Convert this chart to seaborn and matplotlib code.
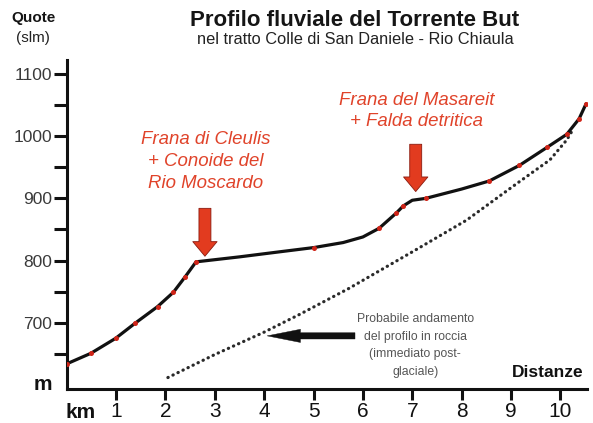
import matplotlib
matplotlib.use("Agg")
import matplotlib.pyplot as plt
import seaborn as sns
import pandas as pd

# Surveyed river-bed points (distance in km, elevation in m a.s.l.)
survey_km = [0.0, 0.49, 0.99, 1.38, 1.84, 2.16, 2.40, 2.62, 5.01, 6.33, 6.67,
             6.82, 7.27, 8.56, 9.17, 9.73, 10.13, 10.38, 10.52]
survey_m = [634, 651, 675, 699, 726, 749, 774, 798, 821, 852, 876,
            888, 900, 928, 953, 982, 1003, 1028, 1052]

# Traced longitudinal profile of the river bed
profile_km = [0.0, 0.49, 0.99, 1.38, 1.84, 2.16, 2.40, 2.62, 3.5, 4.3, 5.01,
              5.6, 6.0, 6.33, 6.67, 6.82, 7.0, 7.27, 8.0, 8.56, 9.17, 9.73,
              10.13, 10.38, 10.52]
profile_m = [634, 651, 675, 699, 726, 749, 774, 798, 806, 814, 821,
             829, 838, 852, 876, 888, 897, 900, 915, 928, 953, 982,
             1003, 1028, 1052]

# Probable bedrock profile (post-glacial)
bedrock_km = [2.05, 3.0, 4.0, 4.73, 5.71, 7.0, 8.1, 9.12, 9.79, 10.13, 10.25]
bedrock_m = [612, 649, 685, 714, 755, 814, 865, 924, 962, 994, 1010]

x_ticks = [1, 2, 3, 4, 5, 6, 7, 8, 9, 10]
y_ticks = [650, 700, 750, 800, 850, 900, 950, 1000, 1050, 1100]
y_labels = ["", "700", "", "800", "", "900", "", "1000", "", "1100"]

RED = "#e0432a"
ARROW_RED = "#e23b1f"

sns.set_theme(style="white")
plt.rcParams["font.family"] = ["Liberation Sans", "DejaVu Sans"]

fig = plt.figure(figsize=(5.93, 4.23), dpi=100)
ax = fig.add_axes([0.1125, 0.0804, 0.8774, 0.7778])

profile = pd.DataFrame({"km": profile_km, "m": profile_m})
survey = pd.DataFrame({"km": survey_km, "m": survey_m})
bedrock = pd.DataFrame({"km": bedrock_km, "m": bedrock_m})

sns.lineplot(data=bedrock, x="km", y="m", ax=ax, color="#2a2a2a", lw=2.3,
             sort=False, linestyle=(0, (0.1, 1.65)), dash_capstyle="round")
sns.lineplot(data=profile, x="km", y="m", ax=ax, color="#111111", lw=2.3,
             sort=False, solid_joinstyle="round")
sns.scatterplot(data=survey, x="km", y="m", ax=ax, color="#cf2418", s=13,
                linewidth=0, zorder=5)

ax.set_xlim(0, 10.54)
ax.set_ylim(593.6, 1122.5)
ax.set_xlabel("")
ax.set_ylabel("")

for side in ("top", "right"):
    ax.spines[side].set_visible(False)
for side in ("left", "bottom"):
    ax.spines[side].set_linewidth(2.2)
    ax.spines[side].set_color("#111111")

ax.set_xticks(x_ticks)
ax.set_xticklabels([str(v) for v in x_ticks])
ax.set_yticks(y_ticks)
ax.set_yticklabels(y_labels)
ax.tick_params(axis="x", direction="out", length=8, width=2.2, color="#111111",
               labelsize=15, labelcolor="#111111", pad=1.5, bottom=True)
ax.tick_params(axis="y", direction="out", length=9.5, width=2.2, color="#111111",
               labelsize=12.5, labelcolor="#3a3a3a", pad=1, left=True)

# Red downward arrows marking the landslides
for x0, ytop, ytip in [(2.80, 884, 807), (7.07, 987, 911)]:
    ax.annotate("", xy=(x0, ytip), xytext=(x0, ytop),
                arrowprops=dict(arrowstyle="simple,head_width=1.75,head_length=1.05,tail_width=0.86",
                                mutation_scale=10, fc=ARROW_RED, ec="#8a1a0e",
                                lw=0.6, shrinkA=0, shrinkB=0))

# Black arrow pointing to the bedrock profile
ax.annotate("", xy=(4.06, 679), xytext=(5.84, 679),
            arrowprops=dict(arrowstyle="simple,head_width=0.95,head_length=2.4,tail_width=0.45",
                            mutation_scale=10, fc="#111111", ec="#111111",
                            lw=0.3, shrinkA=0, shrinkB=0))

ax.text(2.82, 960, "Frana di Cleulis\n+ Conoide del\nRio Moscardo",
        ha="center", va="center", color=RED, fontsize=13.4, style="italic",
        linespacing=1.38)
ax.text(7.09, 1040.5, "Frana del Masareit\n+ Falda detritica",
        ha="center", va="center", color=RED, fontsize=13.4, style="italic",
        linespacing=1.3)
ax.text(7.06, 663.5, "Probabile andamento\ndel profilo in roccia\n(immediato post-\nglaciale)",
        ha="center", va="center", color="#555555", fontsize=8.8,
        linespacing=1.6)

fig.text(355 / 593, 1 - 20 / 423, "Profilo fluviale del Torrente But",
         ha="center", va="center", fontsize=16, fontweight="bold", color="#151515")
fig.text(355 / 593, 1 - 40 / 423, "nel tratto Colle di San Daniele - Rio Chiaula",
         ha="center", va="center", fontsize=11.8, color="#222222")
fig.text(33 / 593, 1 - 18 / 423, "Quote", ha="center", va="center",
         fontsize=11, fontweight="bold", color="#151515")
fig.text(33 / 593, 1 - 38 / 423, "(slm)", ha="center", va="center",
         fontsize=11, color="#222222")
fig.text(42.5 / 593, 1 - 390 / 423, "m", ha="center", va="baseline",
         fontsize=15, fontweight="bold", color="#111111")
fig.text(81 / 593, 1 - 412 / 423, "km", ha="center", va="center",
         fontsize=15, fontweight="bold", color="#111111")
fig.text(548 / 593, 1 - 372 / 423, "Distanze", ha="center", va="center",
         fontsize=12.5, fontweight="bold", color="#111111")

fig.savefig("out.png", dpi=100)
